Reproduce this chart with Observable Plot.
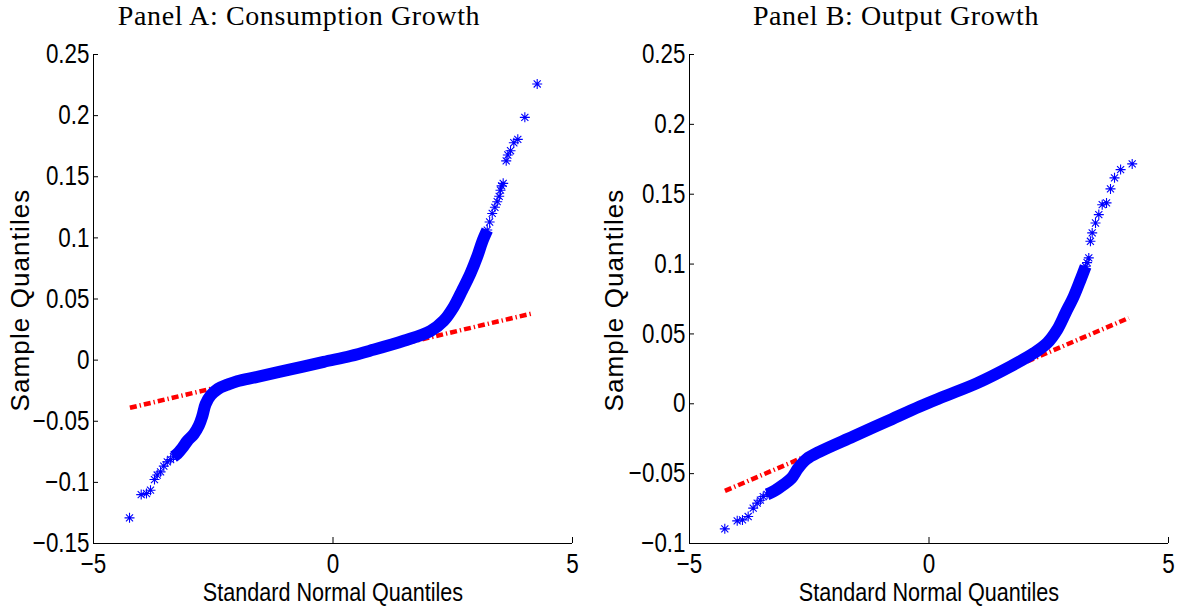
<!DOCTYPE html>
<html><head><meta charset="utf-8">
<script src="https://cdn.jsdelivr.net/npm/d3@7"></script>
<script src="https://cdn.jsdelivr.net/npm/@observablehq/plot@0.6"></script>
<style>
html,body{margin:0;padding:0;background:#fff;}
#wrap{position:relative;width:1177px;height:606px;overflow:hidden;background:#fff;}
#wrap svg{position:absolute;top:0;overflow:visible;}
</style></head><body><div id="wrap"></div>
<script>
// ---- text ----
const titles = ["Panel A: Consumption Growth", "Panel B: Output Growth"];
const xLabel = "Standard Normal Quantiles";
const yLabel = "Sample Quantiles";

// ---- ticks ----
const xTicks = [-5, 0, 5];
const xTickLabels = ["\u22125", "0", "5"];
const yTicksA = [-0.15, -0.1, -0.05, 0, 0.05, 0.1, 0.15, 0.2, 0.25];
const yTickLabelsA = ["\u22120.15", "\u22120.1", "\u22120.05", "0", "0.05", "0.1", "0.15", "0.2", "0.25"];
const yTicksB = [-0.1, -0.05, 0, 0.05, 0.1, 0.15, 0.2, 0.25];
const yTickLabelsB = ["\u22120.1", "\u22120.05", "0", "0.05", "0.1", "0.15", "0.2", "0.25"];

// ---- Panel A: consumption growth (theoretical quantile x, sample quantile y) ----
const lowTailA_x = [-4.248, -4.004, -3.894, -3.810, -3.727, -3.670, -3.600, -3.532, -3.460, -3.390, -3.330, -3.253];
const lowTailA_y = [-0.1290, -0.1100, -0.1091, -0.1064, -0.0977, -0.0940, -0.0914, -0.0867, -0.0832, -0.0813, -0.0790, -0.0767];
const bandA_x = [-3.330, -3.253, -3.149, -3.040, -2.906, -2.800, -2.730, -2.660, -2.557, -2.400, -2.200, -2.000, -1.580, -0.887, -0.192, 0.365, 0.783, 1.478, 2.036, 2.310, 2.520, 2.700, 2.870, 3.010, 3.115, 3.220];
const bandA_y = [-0.0790, -0.0767, -0.0720, -0.0660, -0.0605, -0.0535, -0.0460, -0.0360, -0.0290, -0.0235, -0.0200, -0.0172, -0.0137, -0.0076, -0.0014, 0.0034, 0.0078, 0.0158, 0.0238, 0.0322, 0.0436, 0.0573, 0.0710, 0.0846, 0.0968, 0.1064];
const highTailA_x = [3.170, 3.220, 3.270, 3.324, 3.380, 3.428, 3.470, 3.497, 3.520, 3.553, 3.616, 3.650, 3.706, 3.775, 3.858, 4.005, 4.263];
const highTailA_y = [0.1020, 0.1064, 0.1130, 0.1200, 0.1250, 0.1296, 0.1340, 0.1390, 0.1425, 0.1446, 0.1630, 0.1678, 0.1713, 0.1778, 0.1806, 0.1986, 0.2259];
const refA_x = [-4.24, 4.16];
const refA_y = [-0.0390, 0.0382];

// ---- Panel B: output growth ----
const lowTailB_x = [-4.263, -4.004, -3.894, -3.775, -3.670, -3.587, -3.520, -3.460, -3.380, -3.300];
const lowTailB_y = [-0.0895, -0.0838, -0.0831, -0.0807, -0.0747, -0.0711, -0.0690, -0.0664, -0.0648, -0.0636];
const bandB_x = [-3.380, -3.253, -3.044, -2.870, -2.730, -2.557, -2.280, -1.583, -0.887, -0.192, 0.310, 1.006, 1.700, 2.190, 2.468, 2.676, 2.850, 3.023, 3.163, 3.270];
const bandB_y = [-0.0648, -0.0628, -0.0580, -0.0532, -0.0460, -0.0396, -0.0342, -0.0234, -0.0127, -0.0019, 0.0052, 0.0148, 0.0267, 0.0363, 0.0435, 0.0530, 0.0650, 0.0769, 0.0888, 0.0984];
const highTailB_x = [3.220, 3.270, 3.300, 3.336, 3.370, 3.407, 3.476, 3.545, 3.616, 3.706, 3.789, 3.873, 4.000, 4.242];
const highTailB_y = [0.0940, 0.0984, 0.1010, 0.1044, 0.1163, 0.1223, 0.1294, 0.1354, 0.1425, 0.1438, 0.1538, 0.1617, 0.1676, 0.1717];
const refB_x = [-4.26, 4.17];
const refB_y = [-0.0623, 0.0614];

// ---- helpers ----
const zip = (xs, ys) => xs.map((x, i) => ({x, y: ys[i]}));
const star8 = {
  draw(ctx, size) {
    const r = Math.sqrt(size / Math.PI);
    const d = r * Math.SQRT1_2;
    ctx.moveTo(0, -r); ctx.lineTo(0, r);
    ctx.moveTo(-r, 0); ctx.lineTo(r, 0);
    ctx.moveTo(-d, -d); ctx.lineTo(d, d);
    ctx.moveTo(-d, d); ctx.lineTo(d, -d);
  }
};
const sans = "'Liberation Sans',Arial,Helvetica,sans-serif";
const serif = "'Liberation Serif','Times New Roman',serif";

function panel(opts) {
  const {width, yDomain, yTicks, yTickLabels, lowX, lowY, bandX, bandY, highX, highY, refX, refY, title, titleDx, yLabelDx} = opts;
  const tails = zip(lowX, lowY).concat(zip(highX, highY));
  const svg = Plot.plot({
    width, height: 606,
    marginLeft: 93, marginRight: width - 93 - 479, marginTop: 54, marginBottom: 63,
    style: {fontFamily: sans, fontSize: "27px", color: "black", background: "transparent", overflow: "visible"},
    x: {domain: [xTicks[0], xTicks[xTicks.length - 1]]},
    y: {domain: yDomain},
    marks: [
      Plot.line(zip(refX, refY), {x: "x", y: "y", stroke: "#ff0000", strokeWidth: 4.5, strokeDasharray: "7,3,1.3,3", strokeLinecap: "butt"}),
      Plot.line(zip(bandX, bandY), {x: "x", y: "y", stroke: "#0000ff", strokeWidth: 12, strokeLinecap: "butt", strokeLinejoin: "round", curve: "catmull-rom"}),
      Plot.dot(tails, {x: "x", y: "y", r: 5, symbol: star8, stroke: "#0000ff", fill: "none", strokeWidth: 1.1}),
      Plot.ruleX([xTicks[0]], {stroke: "black", strokeWidth: 1}),
      Plot.ruleY([yDomain[0]], {stroke: "black", strokeWidth: 1}),
      Plot.axisY(yTicks, {anchor: "left", tickSize: -5, tickPadding: 9, tickFormat: d => yTickLabels[yTicks.indexOf(d)], fontSize: 27, fontFamily: sans, label: null, stroke: "black"}),
      Plot.axisX(xTicks, {anchor: "bottom", tickSize: -6, tickPadding: 16, tickFormat: d => xTickLabels[xTicks.indexOf(d)], fontSize: 27, fontFamily: sans, label: null, stroke: "black"}),
      Plot.text([title], {text: d => d, frameAnchor: "top", textAnchor: "middle", lineAnchor: "bottom", dx: titleDx, dy: -30, fontFamily: serif, fontSize: 28, fill: "black"}),
      Plot.text([xLabel], {text: d => d, frameAnchor: "bottom", textAnchor: "middle", lineAnchor: "bottom", dy: 57, fontFamily: sans, fontSize: 26, fill: "black"}),
      Plot.text([yLabel], {text: d => d, frameAnchor: "left", textAnchor: "middle", lineAnchor: "bottom", rotate: -90, dx: yLabelDx, dy: 1, fontFamily: sans, fontSize: 26, fill: "black"})
    ]
  });
  return svg;
}

// condense the Helvetica-narrow looking texts (tick labels and x label)
function condense(svg, title) {
  d3.select(svg).selectAll("text").each(function() {
    const t = this.textContent;
    if (t === title) { this.style.letterSpacing = "0.6px"; return; }
    if (t === yLabel) { this.style.letterSpacing = "1.1px"; return; }
    const w = this.getComputedTextLength();
    if (w > 0) {
      this.setAttribute("textLength", (w * 0.83).toFixed(1));
      this.setAttribute("lengthAdjust", "spacingAndGlyphs");
    }
  });
}

const wrap = document.getElementById("wrap");
const svgA = panel({width: 600, yDomain: [yTicksA[0], yTicksA[yTicksA.length - 1]], yTicks: yTicksA, yTickLabels: yTickLabelsA,
  lowX: lowTailA_x, lowY: lowTailA_y, bandX: bandA_x, bandY: bandA_y, highX: highTailA_x, highY: highTailA_y,
  refX: refA_x, refY: refA_y, title: titles[0], titleDx: -34, yLabelDx: -65});
svgA.style.left = "0px";
wrap.appendChild(svgA);
condense(svgA, titles[0]);
const svgB = panel({width: 581, yDomain: [yTicksB[0], yTicksB[yTicksB.length - 1]], yTicks: yTicksB, yTickLabels: yTickLabelsB,
  lowX: lowTailB_x, lowY: lowTailB_y, bandX: bandB_x, bandY: bandB_y, highX: highTailB_x, highY: highTailB_y,
  refX: refB_x, refY: refB_y, title: titles[1], titleDx: -33, yLabelDx: -67});
svgB.style.left = "596px";
wrap.appendChild(svgB);
condense(svgB, titles[1]);
</script></body></html>
